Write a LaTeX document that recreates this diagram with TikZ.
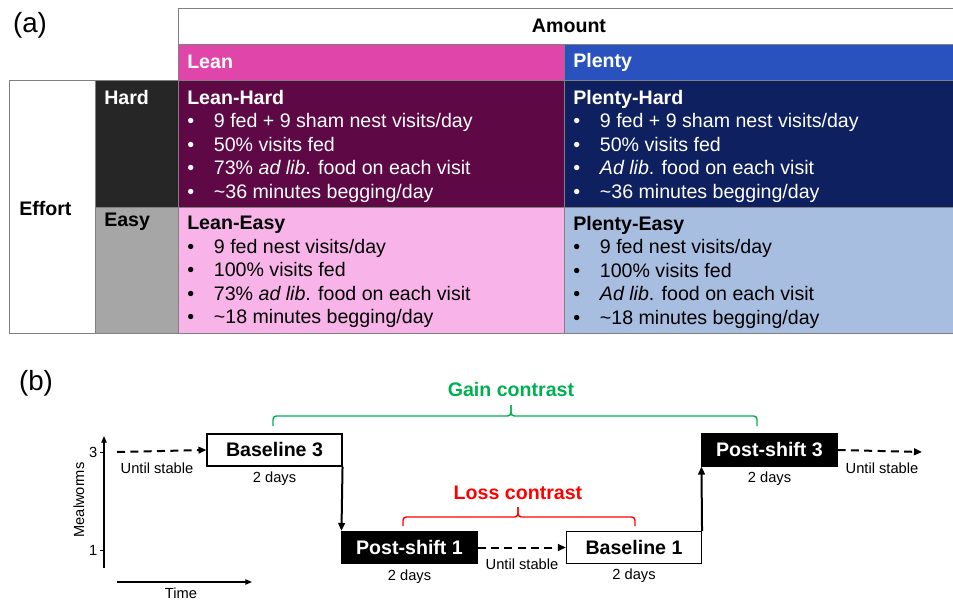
\documentclass[tikz,border=0pt]{standalone}
\usepackage{fontspec}
\setmainfont{Liberation Sans}
\usetikzlibrary{arrows.meta}

\definecolor{leanhead}{RGB}{224,70,170}
\definecolor{plentyhead}{RGB}{42,82,190}
\definecolor{leanhard}{RGB}{94,8,70}
\definecolor{plentyhard}{RGB}{14,32,96}
\definecolor{leaneasy}{RGB}{248,180,232}
\definecolor{plentyeasy}{RGB}{168,190,224}
\definecolor{hardcell}{RGB}{38,38,38}
\definecolor{easycell}{RGB}{166,166,166}
\definecolor{gaingreen}{RGB}{0,176,80}
\definecolor{lossred}{RGB}{255,0,0}
\definecolor{rule}{RGB}{128,128,128}

\newcommand{\itm}{\makebox[20pt][l]{\textbullet}}
\newcommand{\bigfont}{\fontsize{14.7}{17.6}\selectfont}
\newcommand{\smallfont}{\fontsize{11}{13}\selectfont}

\begin{document}
\begin{tikzpicture}[x=0.75pt,y=-0.75pt]
  \useasboundingbox (0,0) rectangle (953,602);
  % (a) table
  \node[font=\fontsize{20.8}{24}\selectfont] (pa) at (30,25) {(a)};
  \begin{scope}[draw=rule,line width=0.7pt]
  \draw[fill=white] (178,8) rectangle (953,44);
  \draw[fill=leanhead] (178,44) rectangle (564,80);
  \draw[fill=plentyhead] (564,44) rectangle (953,80);
  \draw[fill=white] (9,80) rectangle (95,333);
  \draw[fill=hardcell] (95,80) rectangle (178,207);
  \draw[fill=easycell] (95,207) rectangle (178,333);
  \draw[fill=leanhard] (178,80) rectangle (564,207);
  \draw[fill=plentyhard] (564,80) rectangle (953,207);
  \draw[fill=leaneasy] (178,207) rectangle (564,333);
  \draw[fill=plentyeasy] (564,207) rectangle (953,333);
  \end{scope}
  \begin{scope}[every node/.style={inner sep=0pt,font=\bigfont\bfseries}]
  \node (amount) at (569,26) {Amount};
  \node[anchor=west,text=white] (lean) at (187,62) {Lean};
  \node[anchor=west,text=white] (plenty) at (573,62) {Plenty};
  \node[anchor=west] (effort) at (19,208) {Effort};
  \node[anchor=west,text=white] (hard) at (104,97) {Hard};
  \node[anchor=west] (easy) at (104,222) {Easy};
  \end{scope}
  \begin{scope}[every node/.style={inner sep=0pt,anchor=north west,align=left,font=\bigfont}]
  \node[text=white] (lh) at (187,90) {\textbf{Lean-Hard}\\
    \itm 9 fed + 9 sham nest visits/day\\
    \itm 50\% visits fed\\
    \itm 73\% \textit{ad lib}. food on each visit\\
    \itm \textasciitilde36 minutes begging/day};
  \node[text=white] (ph) at (573,90) {\textbf{Plenty-Hard}\\
    \itm 9 fed + 9 sham nest visits/day\\
    \itm 50\% visits fed\\
    \itm \textit{Ad lib}. food on each visit\\
    \itm \textasciitilde36 minutes begging/day};
  \node (le) at (187,216) {\textbf{Lean-Easy}\\
    \itm 9 fed nest visits/day\\
    \itm 100\% visits fed\\
    \itm 73\% \textit{ad lib}. food on each visit\\
    \itm \textasciitilde18 minutes begging/day};
  \node (pe) at (573,216) {\textbf{Plenty-Easy}\\
    \itm 9 fed nest visits/day\\
    \itm 100\% visits fed\\
    \itm \textit{Ad lib}. food on each visit\\
    \itm \textasciitilde18 minutes begging/day};
  \end{scope}

  % (b) timeline
  \node[font=\fontsize{20.8}{24}\selectfont] (pb) at (36,383) {(b)};
  \coordinate (ybot) at (104,568);
  \coordinate (ytop) at (104,436);
  \coordinate (tleft) at (117,582);
  \coordinate (tright) at (252,582);
  \coordinate (start) at (117,452);
  \coordinate (stop) at (922,452);
  \draw[line width=0.9pt,-{Triangle[length=5pt,width=4pt]}] (ybot) -- (ytop);
  \draw[line width=0.9pt,-{Triangle[length=5pt,width=4pt]}] (tleft) -- (tright);
  \draw[line width=0.7pt] (100,452) -- (104,452) (100,550) -- (104,550);
  \begin{scope}[every node/.style={font=\smallfont,inner sep=1pt}]
  \node[anchor=east] (three) at (99,452) {3};
  \node[anchor=east] (one) at (99,550) {1};
  \node[rotate=90] (meal) at (79,500) {Mealworms};
  \node (time) at (181,593) {Time};
  \node (d1) at (274.5,479) {2 days};
  \node (d2) at (409.5,577) {2 days};
  \node (d3) at (634,576) {2 days};
  \node (d4) at (769.5,479) {2 days};
  \node (u1) at (157,468) {Until stable};
  \node (u2) at (522,564) {Until stable};
  \node (u3) at (882,468) {Until stable};
  \end{scope}
  \begin{scope}[every node/.style={draw=black,line width=0.8pt,minimum width=101.25pt,minimum height=24pt,inner sep=0pt,font=\bigfont\bfseries}]
  \node[fill=white] (base3) at (274.5,450) {Baseline 3};
  \node[fill=black,text=white] (post1) at (409.5,547.5) {Post-shift 1};
  \node[fill=white] (base1) at (634,547.5) {Baseline 1};
  \node[fill=black,text=white] (post3) at (769.5,450) {Post-shift 3};
  \end{scope}
  \begin{scope}[every path/.style={line width=1.5pt,-{Triangle[length=6pt,width=5pt]}}]
  \draw[dash pattern=on 6pt off 4pt] (start) -- (base3.west);
  \draw (base3.south east) -- (post1.north west);
  \draw[dash pattern=on 6pt off 4pt] (post1.east) -- (base1.west);
  \draw (base1.north east) -- (post3.south west);
  \draw[dash pattern=on 6pt off 4pt] (post3.east) -- (stop);
  \end{scope}
  % contrasts
  \begin{scope}[line width=1.1pt,rounded corners=2.5pt]
  \draw[gaingreen] (273,426) |- (511,416) -- (511,405);
  \draw[gaingreen] (511,405) -- (511,416) -| (757,426);
  \draw[lossred] (403,526) |- (518,517) -- (518,507);
  \draw[lossred] (518,507) -- (518,517) -| (635,526);
  \end{scope}
  \node[font=\bigfont\bfseries,text=gaingreen] (gain) at (511,389) {Gain contrast};
  \node[font=\bigfont\bfseries,text=lossred] (loss) at (518,493) {Loss contrast};
\end{tikzpicture}
\end{document}
